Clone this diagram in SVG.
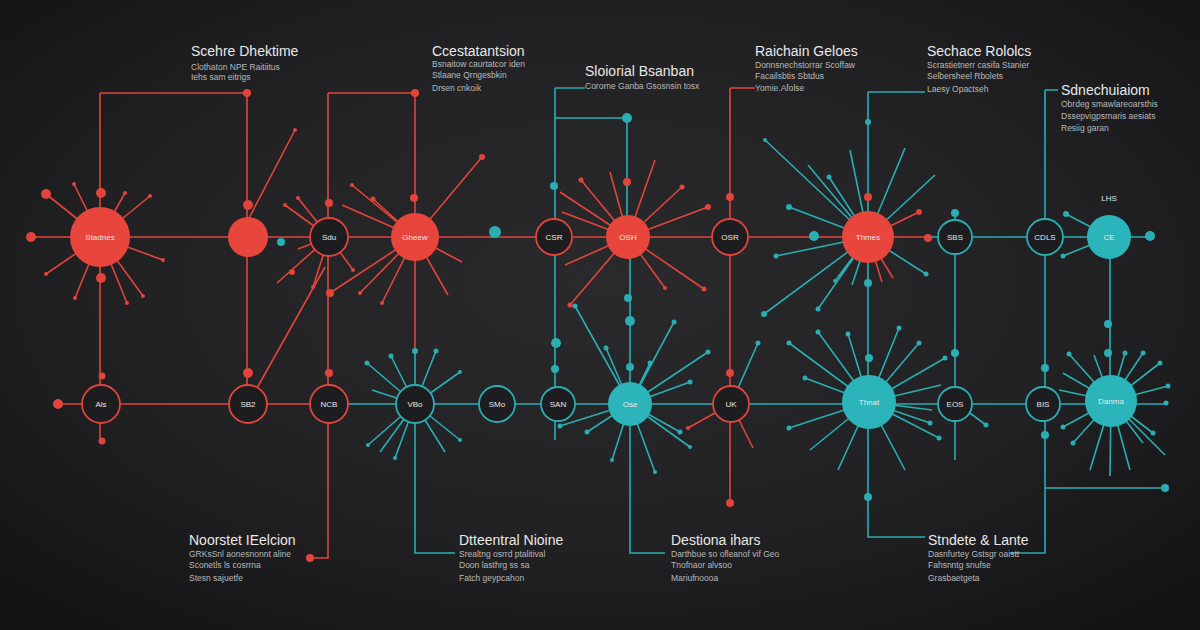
<svg xmlns="http://www.w3.org/2000/svg" width="1200" height="630" viewBox="0 0 1200 630">
<defs>
<radialGradient id="bg" cx="50%" cy="45%" r="70%">
<stop offset="0" stop-color="#2a2a2c"/>
<stop offset="0.6" stop-color="#212123"/>
<stop offset="1" stop-color="#131315"/>
</radialGradient>
<style>
.r{stroke:#e2443b;stroke-width:1.6;fill:none}
.t{stroke:#29aeb3;stroke-width:1.6;fill:none}
.rd{fill:#e2443b}
.td{fill:#29aeb3}
.rf{fill:#e8453c}
.tf{fill:#2bb5ba}
.ro{fill:#1d1d1f;stroke:#e2443b;stroke-width:1.8}
.to{fill:#1d1d1f;stroke:#29aeb3;stroke-width:1.8}
.nl{font-family:"Liberation Sans",Arial,sans-serif;font-size:8px;fill:#e6e6e6;text-anchor:middle}
.h{font-family:"Liberation Sans",Arial,sans-serif;font-size:14px;fill:#e8e8e8}
.s{font-family:"Liberation Sans",Arial,sans-serif;font-size:8.5px;fill:#b8b8b8}
</style>
</defs>
<rect width="1200" height="630" fill="url(#bg)"/>

<g id="connectors">
<!-- main horizontals -->
<path class="r" d="M31 237H928"/>
<path class="t" d="M928 237H1150"/>
<path class="r" d="M58 404H347"/>
<path class="t" d="M347 404H712M750 404H1168"/>
<path class="r" d="M712 404H750"/>
<!-- verticals / label leaders -->
<path class="r" d="M100 93H247M100 93V441M247 93V404"/>
<path class="r" d="M328 93H415M328 93V558H310M415 93V350"/>
<path class="t" d="M415 350V553H455"/>
<path class="t" d="M555 88H585M555 88V440M555 118H627V237"/>
<path class="t" d="M630 237V553H665"/>
<path class="r" d="M730 88H755M730 88V503"/>
<path class="t" d="M868 92H925M868 92V537H925"/>
<path class="t" d="M1045 90H1058M1045 90V553H1010M1045 488H1165"/>
<path class="t" d="M955 212V460M1110 237V401"/>
<!-- diagonals -->
<path class="r" d="M248 220L295 130M257 388L325 267"/>
<!-- star A -->
<path class="r" d="M100 237L74 184M100 237L125 193M100 237L150 196M100 237L163 260M100 237L143 296M100 237L127 303M100 237L75 298M100 237L46 274M100 237L46 194"/>
<!-- node C rays -->
<path class="r" d="M329 237L285 205M329 237L298 198M329 237L298 249M329 237L277 283M329 237L353 270M329 237L313 287"/>
<!-- star D -->
<path class="r" d="M415 237L352 185M415 237L342 205M415 237L373 199M415 237L360 293M415 237L382 303M415 237L330 293M415 237L482 157M415 237L462 262M415 237L448 295"/>
<!-- star G -->
<path class="r" d="M628 237L581 180M628 237L560 192M628 237L562 212M628 237L682 187M628 237L708 207M628 237L565 265M628 237L570 305M628 237L665 288M628 237L704 289M628 237L610 172M628 237L655 160"/>
<!-- star I -->
<path class="t" d="M868 237L789 207M868 237L776 256M868 237L764 314M868 237L818 309M868 237L835 281M868 237L852 285M868 237L926 274M868 237L765 140M868 237L808 165M868 237L829 177M868 237L905 148M868 237L935 175M868 237L850 150"/>
<path class="r" d="M868 237L919 212M868 237L882 282M868 237L893 278"/>
<!-- star L -->
<path class="t" d="M1110 237L1066 214M1110 237L1063 256"/>
<!-- star d -->
<path class="t" d="M415 404L367 363M415 404L391 356M415 404L436 351M415 404L460 372M415 404L368 445M415 404L380 452M415 404L395 458M415 404L460 440M415 404L445 452M415 404L372 390"/>
<!-- star g -->
<path class="t" d="M630 404L575 306M630 404L606 348M630 404L650 363M630 404L674 322M630 404L708 352M630 404L690 382M630 404L560 426M630 404L587 432M630 404L680 432M630 404L612 460M630 404L655 472M630 404L690 447"/>
<!-- node h rays -->
<path class="r" d="M731 404L688 428M731 404L753 448"/>
<path class="t" d="M731 404L758 343"/>
<!-- star i -->
<path class="t" d="M869 402L789 343M869 402L818 332M869 402L848 334M869 402L899 328M869 402L919 343M869 402L945 358M869 402L805 378M869 402L941 385M869 402L789 428M869 402L932 410M869 402L930 423M869 402L939 438M869 402L810 450M869 402L838 470M869 402L905 470"/>
<path class="t" d="M955 402L986 425"/>
<!-- star l -->
<path class="t" d="M1111 401L1069 354M1111 401L1094 355M1111 401L1125 353M1111 401L1143 353M1111 401L1160 363M1111 401L1168 386M1111 401L1063 373M1111 401L1059 390M1111 401L1063 427M1111 401L1073 443M1111 401L1143 443M1111 401L1153 433M1111 401L1090 470M1111 401L1110 476M1111 401L1130 470M1111 401L1165 455"/>

<!-- red dots -->
<g class="rd">
<circle cx="247" cy="93" r="4"/><circle cx="415" cy="93" r="4"/><circle cx="310" cy="558" r="4"/><circle cx="730" cy="503" r="4"/>
<circle cx="31" cy="237" r="5"/><circle cx="46" cy="194" r="5"/><circle cx="101" cy="193" r="5"/><circle cx="101" cy="278" r="5"/>
<circle cx="58" cy="404" r="5"/><circle cx="102" cy="441" r="3.5"/><circle cx="102" cy="376" r="3.5"/>
<circle cx="74" cy="184" r="2"/><circle cx="125" cy="193" r="2"/><circle cx="150" cy="196" r="2"/><circle cx="163" cy="260" r="2"/><circle cx="143" cy="296" r="2"/><circle cx="127" cy="303" r="2"/><circle cx="75" cy="298" r="2"/><circle cx="46" cy="274" r="2"/>
<circle cx="248" cy="205" r="5"/><circle cx="248" cy="373" r="5"/><circle cx="295" cy="130" r="2"/>
<circle cx="329" cy="203" r="4"/><circle cx="329" cy="373" r="4"/><circle cx="292" cy="272" r="3"/><circle cx="285" cy="205" r="2"/><circle cx="298" cy="198" r="2"/><circle cx="353" cy="270" r="2"/><circle cx="313" cy="287" r="2"/>
<circle cx="414" cy="198" r="4"/><circle cx="330" cy="293" r="4"/><circle cx="373" cy="199" r="2.5"/><circle cx="352" cy="185" r="2"/><circle cx="360" cy="293" r="2"/><circle cx="382" cy="303" r="2"/><circle cx="482" cy="157" r="3"/>
<circle cx="627" cy="182" r="4"/><circle cx="581" cy="180" r="2.5"/><circle cx="682" cy="187" r="2.5"/><circle cx="708" cy="207" r="3"/><circle cx="570" cy="305" r="2.5"/><circle cx="665" cy="288" r="2"/><circle cx="704" cy="289" r="2.5"/>
<circle cx="730" cy="197" r="4"/><circle cx="730" cy="373" r="4"/><circle cx="688" cy="428" r="2"/>
<circle cx="868" cy="197" r="4"/><circle cx="919" cy="212" r="3"/><circle cx="928" cy="238" r="4"/>
</g>
<!-- teal dots -->
<g class="td">
<circle cx="495" cy="232" r="6"/><circle cx="281" cy="242" r="4"/><circle cx="627" cy="118" r="5"/>
<circle cx="554" cy="186" r="4"/><circle cx="556" cy="343" r="5"/><circle cx="555" cy="369" r="4"/>
<circle cx="628" cy="298" r="4"/><circle cx="630" cy="321" r="5"/><circle cx="630" cy="367" r="4"/>
<circle cx="575" cy="306" r="2.5"/><circle cx="606" cy="348" r="2.5"/><circle cx="650" cy="363" r="2.5"/><circle cx="674" cy="322" r="2.5"/><circle cx="708" cy="352" r="2.5"/><circle cx="690" cy="382" r="2.5"/><circle cx="560" cy="426" r="2.5"/><circle cx="587" cy="432" r="2.5"/><circle cx="680" cy="432" r="2.5"/><circle cx="612" cy="460" r="2"/><circle cx="655" cy="472" r="2"/><circle cx="690" cy="447" r="2"/>
<circle cx="367" cy="363" r="2.5"/><circle cx="391" cy="356" r="2.5"/><circle cx="415" cy="351" r="3"/><circle cx="436" cy="351" r="2.5"/><circle cx="460" cy="372" r="2"/><circle cx="368" cy="445" r="2"/><circle cx="460" cy="440" r="2"/><circle cx="395" cy="458" r="2"/>
<circle cx="758" cy="343" r="2.5"/>
<circle cx="868" cy="122" r="3"/><circle cx="789" cy="207" r="3"/><circle cx="776" cy="256" r="2.5"/><circle cx="764" cy="314" r="3"/><circle cx="818" cy="309" r="2.5"/><circle cx="835" cy="281" r="2"/><circle cx="926" cy="274" r="2.5"/><circle cx="868" cy="283" r="4"/><circle cx="814" cy="236" r="5"/><circle cx="829" cy="177" r="2.5"/><circle cx="765" cy="140" r="2"/>
<circle cx="789" cy="343" r="2.5"/><circle cx="818" cy="332" r="2.5"/><circle cx="848" cy="334" r="2.5"/><circle cx="899" cy="328" r="2.5"/><circle cx="919" cy="343" r="2.5"/><circle cx="945" cy="358" r="2.5"/><circle cx="805" cy="378" r="2.5"/><circle cx="789" cy="428" r="2.5"/><circle cx="930" cy="423" r="2.5"/><circle cx="939" cy="438" r="2.5"/><circle cx="869" cy="358" r="4"/><circle cx="868" cy="497" r="4"/>
<circle cx="955" cy="213" r="4"/><circle cx="955" cy="353" r="4"/><circle cx="986" cy="425" r="2.5"/>
<circle cx="1045" cy="368" r="4"/><circle cx="1045" cy="435" r="4"/><circle cx="1165" cy="488" r="4"/>
<circle cx="1150" cy="236" r="5"/><circle cx="1066" cy="214" r="3"/><circle cx="1063" cy="256" r="2.5"/>
<circle cx="1108" cy="324" r="4"/><circle cx="1108" cy="353" r="4"/>
<circle cx="1069" cy="354" r="2.5"/><circle cx="1125" cy="353" r="2.5"/><circle cx="1143" cy="353" r="2.5"/><circle cx="1160" cy="363" r="2.5"/><circle cx="1168" cy="386" r="2.5"/><circle cx="1166" cy="403" r="2.5"/><circle cx="1063" cy="427" r="2.5"/><circle cx="1073" cy="443" r="2.5"/><circle cx="1153" cy="433" r="2.5"/>
</g>
</g>

<!-- top row nodes -->
<g id="nA"><circle class="rf" cx="100" cy="237" r="30"/><text class="nl" x="100" y="240">Stadnes</text></g>
<g id="nB"><circle class="rf" cx="248" cy="237" r="20"/></g>
<g id="nC"><circle class="ro" cx="329" cy="237" r="19"/><text class="nl" x="329" y="240">Sdu</text></g>
<g id="nD"><circle class="rf" cx="415" cy="237" r="24"/><text class="nl" x="415" y="240">Gheew</text></g>
<g id="nF"><circle class="ro" cx="554" cy="237" r="18"/><text class="nl" x="554" y="240">CSR</text></g>
<g id="nG"><circle class="rf" cx="628" cy="237" r="22"/><text class="nl" x="628" y="240">OSH</text></g>
<g id="nH"><circle class="ro" cx="730" cy="237" r="18"/><text class="nl" x="730" y="240">OSR</text></g>
<g id="nI"><circle class="rf" cx="868" cy="237" r="26"/><text class="nl" x="868" y="240">Thmes</text></g>
<g id="nJ"><circle class="to" cx="955" cy="237" r="17"/><text class="nl" x="955" y="240">SBS</text></g>
<g id="nK"><circle class="to" cx="1045" cy="237" r="18"/><text class="nl" x="1045" y="240">CDLS</text></g>
<g id="nL"><circle class="tf" cx="1109" cy="237" r="22"/><text class="nl" x="1109" y="240">CE</text><text class="nl" x="1109" y="201">LHS</text></g>

<!-- bottom row nodes -->
<g id="na"><circle class="ro" cx="101" cy="404" r="19"/><text class="nl" x="101" y="407">Als</text></g>
<g id="nb"><circle class="ro" cx="248" cy="404" r="19"/><text class="nl" x="248" y="407">SB2</text></g>
<g id="nc"><circle class="ro" cx="329" cy="404" r="19"/><text class="nl" x="329" y="407">NCB</text></g>
<g id="nd"><circle class="to" cx="415" cy="404" r="19"/><text class="nl" x="415" y="407">VBo</text></g>
<g id="ne"><circle class="to" cx="497" cy="404" r="18"/><text class="nl" x="497" y="407">SMo</text></g>
<g id="nf"><circle class="to" cx="558" cy="404" r="17"/><text class="nl" x="558" y="407">SAN</text></g>
<g id="ng"><circle class="tf" cx="630" cy="404" r="22"/><text class="nl" x="630" y="407">Ose</text></g>
<g id="nh"><circle class="ro" cx="731" cy="404" r="18"/><text class="nl" x="731" y="407">UK</text></g>
<g id="ni"><circle class="tf" cx="869" cy="402" r="27"/><text class="nl" x="869" y="405">Thnat</text></g>
<g id="nj"><circle class="to" cx="955" cy="404" r="17"/><text class="nl" x="955" y="407">EOS</text></g>
<g id="nk"><circle class="to" cx="1043" cy="404" r="17"/><text class="nl" x="1043" y="407">BIS</text></g>
<g id="nl"><circle class="tf" cx="1111" cy="401" r="26"/><text class="nl" x="1111" y="404">Danma</text></g>

<!-- labels -->
<g id="lab1"><text class="h" x="191" y="56">Scehre Dhektime</text><text class="s" x="191" y="70">Clothaton NPE Raitiitus</text><text class="s" x="191" y="80">Iehs sam eitrigs</text></g>
<g id="lab2"><text class="h" x="432" y="56">Ccestatantsion</text><text class="s" x="432" y="67">Bsnaitow caurtatcor iden</text><text class="s" x="432" y="78">Stlaane Qrngesbkin</text><text class="s" x="432" y="91">Drsen cnkoik</text></g>
<g id="lab3"><text class="h" x="585" y="76">Sloiorial Bsanban</text><text class="s" x="585" y="89">Cororne Ganba Gsosnsin tosx</text></g>
<g id="lab4"><text class="h" x="755" y="56">Raichain Geloes</text><text class="s" x="755" y="68">Donnsnechstorrar Scoffaw</text><text class="s" x="755" y="79">Facailsbtis Sbtdus</text><text class="s" x="755" y="91">Yomie.Afolse</text></g>
<g id="lab5"><text class="h" x="927" y="56">Sechace Rololcs</text><text class="s" x="927" y="68">Scrastietnerr casifa Stanier</text><text class="s" x="927" y="79">Selbersheel Rbolets</text><text class="s" x="927" y="92">Laesy Opactseh</text></g>
<g id="lab6"><text class="h" x="1061" y="95">Sdnechuiaiom</text><text class="s" x="1061" y="107">Obrdeg smawlareoarsthis</text><text class="s" x="1061" y="119">Dssepvigpsrnaris aesiats</text><text class="s" x="1061" y="131">Resiig garan</text></g>
<g id="lab7"><text class="h" x="189" y="545">Noorstet IEelcion</text><text class="s" x="189" y="557">GRKsSnl aonesnonnt aline</text><text class="s" x="189" y="568">Sconetls ls cosrrna</text><text class="s" x="189" y="581">Stesn sajuetfe</text></g>
<g id="lab8"><text class="h" x="459" y="545">Dtteentral Nioine</text><text class="s" x="459" y="557">Srealtng osrrd ptalitival</text><text class="s" x="459" y="568">Doon lasthrg ss sa</text><text class="s" x="459" y="581">Fatch geypcahon</text></g>
<g id="lab9"><text class="h" x="671" y="545">Destiona ihars</text><text class="s" x="671" y="557">Darthbue so ofleanof vif Geo</text><text class="s" x="671" y="568">Tnofnaor alvsoo</text><text class="s" x="671" y="581">Mariufnoooa</text></g>
<g id="lab10"><text class="h" x="928" y="545">Stndete &amp; Lante</text><text class="s" x="928" y="557">Dasnfurtey Gstsgr oaistt</text><text class="s" x="928" y="568">Fahsnntg snufse</text><text class="s" x="928" y="581">Grasbaetgeta</text></g>
</svg>
